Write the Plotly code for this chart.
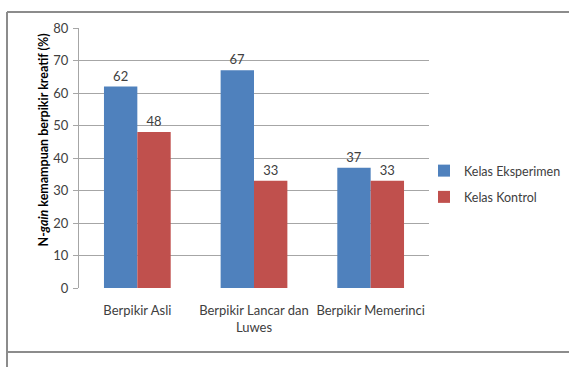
import plotly.graph_objects as go

categories = ["Berpikir Asli", "Berpikir Lancar dan<br>Luwes", "Berpikir Memerinci"]
eksperimen = [62, 67, 37]
kontrol = [48, 33, 33]
series_names = ["Kelas Eksperimen", "Kelas Kontrol"]
y_ticks = [0, 10, 20, 30, 40, 50, 60, 70, 80]

W, H = 569, 367
L, R, T, B = 79, 140, 28, 79
pw, ph = W - L - R, H - T - B

FONT = "Lato, Carlito, Calibri, sans-serif"
TXT = "#404040"
FS = 13

fig = go.Figure()
fig.add_trace(go.Bar(x=categories, y=eksperimen, name=series_names[0], legendgroup="a",
                     marker=dict(color="#4F81BD", line=dict(width=0)),
                     text=eksperimen, textposition="outside",
                     textfont=dict(color=TXT, size=FS, family=FONT), cliponaxis=False))
fig.add_trace(go.Bar(x=categories, y=kontrol, name=series_names[1], legendgroup="b",
                     marker=dict(color="#C0504D", line=dict(width=0)),
                     text=kontrol, textposition="outside",
                     textfont=dict(color=TXT, size=FS, family=FONT), cliponaxis=False))

def px_x(px):
    return (px - L) / pw

def px_y(py):
    return (H - B - py) / ph

fig.update_layout(
    width=W, height=H,
    margin=dict(l=L, r=R, t=T, b=B, pad=0, autoexpand=False),
    paper_bgcolor="white", plot_bgcolor="white",
    barmode="group", bargap=0.428, bargroupgap=0,
    font=dict(family=FONT, size=FS, color=TXT),
    showlegend=True,
    legend=dict(x=px_x(424), y=px_y(156), xanchor="left", yanchor="top",
                font=dict(size=12.5, color=TXT, family=FONT), traceorder="grouped",
                tracegroupgap=7, itemwidth=30, bgcolor="rgba(0,0,0,0)"),
    xaxis=dict(showgrid=False, showline=False, ticks="", tickfont=dict(size=FS, color=TXT),
               ticklabelstandoff=13, zeroline=False, tickangle=0, automargin=False),
    yaxis=dict(range=[0, 80], tickvals=y_ticks, showgrid=True, gridcolor="#a6a6a6", gridwidth=1,
               showline=True, linecolor="#a6a6a6", linewidth=1, ticks="outside", ticklen=5,
               tickcolor="#a6a6a6", tickfont=dict(size=FS, color=TXT), zeroline=False,
               ticklabelstandoff=2, automargin=False),
)

fig.add_annotation(text="<b>N-<i>gain</i> kemampuan berpikir kreatif (%)</b>",
                   xref="paper", yref="paper", x=px_x(33), y=px_y(140),
                   textangle=-90, showarrow=False, font=dict(size=12.5, color="black", family=FONT))

# chart frame
frame = "#8c8c8c"
fig.add_shape(type="line", xref="paper", yref="paper", x0=px_x(7), x1=px_x(580),
              y0=px_y(12), y1=px_y(12), line=dict(color=frame, width=2))
fig.add_shape(type="line", xref="paper", yref="paper", x0=px_x(7), x1=px_x(7),
              y0=px_y(12), y1=px_y(380), line=dict(color=frame, width=2))
fig.add_shape(type="line", xref="paper", yref="paper", x0=px_x(7), x1=px_x(580),
              y0=px_y(352), y1=px_y(352), line=dict(color=frame, width=2))

fig.write_html("out.html")
